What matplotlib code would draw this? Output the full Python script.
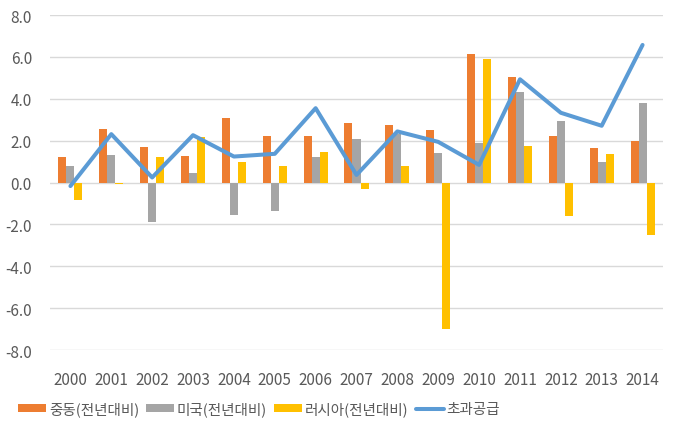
import matplotlib
matplotlib.use("Agg")
import matplotlib.pyplot as plt
import numpy as np

plt.rcParams['font.family'] = ['Noto Sans CJK KR', 'DejaVu Sans']

years = [str(y) for y in range(2000, 2015)]
middle_east = [1.21, 2.55, 1.69, 1.26, 3.08, 2.22, 2.22, 2.84, 2.74, 2.50, 6.14, 5.04, 2.22, 1.64, 1.98]
usa = [0.80, 1.32, -1.88, 0.46, -1.55, -1.37, 1.21, 2.07, 2.31, 1.40, 1.88, 4.32, 2.93, 0.97, 3.79]
russia = [-0.83, -0.07, 1.21, 2.18, 0.97, 0.80, 1.45, -0.31, 0.80, -7.00, 5.90, 1.75, -1.60, 1.35, -2.50]
excess_supply = [-0.17, 2.31, 0.24, 2.26, 1.24, 1.37, 3.55, 0.36, 2.44, 1.94, 0.84, 4.93, 3.33, 2.71, 6.57]

labels = ['중동(전년대비)', '미국(전년대비)', '러시아(전년대비)', '초과공급']

fig = plt.figure(figsize=(6.82, 4.27), dpi=100)
ax = fig.add_axes([50 / 682, 1 - 351 / 427, 613 / 682, 335 / 427])

x = np.arange(len(years))
w = 0.196
b1 = ax.bar(x - w, middle_east, w, color='#ED7D31', label=labels[0], zorder=2)
b2 = ax.bar(x, usa, w, color='#A5A5A5', label=labels[1], zorder=2)
b3 = ax.bar(x + w, russia, w, color='#FFC000', label=labels[2], zorder=2)
ln, = ax.plot(x, excess_supply, color='#5B9BD5', lw=2.9, label=labels[3], zorder=3,
              solid_joinstyle='round', solid_capstyle='round')

ax.set_xlim(-0.5, len(years) - 0.5)
ax.set_ylim(-8, 8)
ax.set_yticks(np.arange(-8, 8.1, 2))
ax.set_yticklabels([f'{v:.1f}' for v in np.arange(-8, 8.1, 2)])
ax.set_xticks(x)
ax.set_xticklabels(years)
ax.grid(axis='y', color='#D9D9D9', lw=1, zorder=0)
for s in ax.spines.values():
    s.set_visible(False)
ax.tick_params(length=0, colors='#595959', labelsize=11)
ax.tick_params(axis='x', pad=15)
ax.tick_params(axis='y', pad=13)

fig.legend([b1, b2, b3, ln], labels, loc='center', bbox_to_anchor=(0.38, 1 - 410 / 427),
           ncol=4, frameon=False, fontsize=10.5, labelcolor='#595959',
           handlelength=1.9, handleheight=0.5, columnspacing=0.5, handletextpad=0.2)

fig.savefig('out.png', dpi=100)
